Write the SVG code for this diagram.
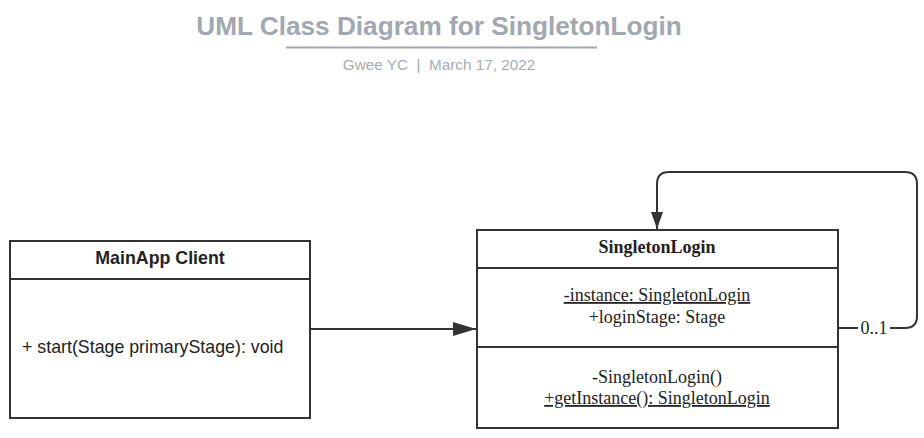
<svg xmlns="http://www.w3.org/2000/svg" width="924" height="438" viewBox="0 0 924 438">
<style>
.box{fill:#fff;stroke:#333;stroke-width:2}
.div{stroke:#333;stroke-width:2}
.sans{font-family:"Liberation Sans",Arial,sans-serif;fill:#222;font-size:17.8px}
.serif{font-family:"Liberation Serif","Times New Roman",serif;fill:#222;font-size:18px}
.title{font-family:"Liberation Sans",Arial,sans-serif;font-weight:bold;font-size:26.2px;fill:#a3a7b0}
.sub{font-family:"Liberation Sans",Arial,sans-serif;font-size:15.3px;fill:#a8abb3}
.conn{fill:none;stroke:#333;stroke-width:2}
</style>
<defs>
<marker id="tri" markerWidth="24" markerHeight="14" refX="23" refY="7" orient="auto" markerUnits="userSpaceOnUse">
<path d="M0,0 L23,7 L0,14 Z" fill="#333"/>
</marker>
<marker id="tri2" markerWidth="18" markerHeight="14" refX="17" refY="7" orient="auto" markerUnits="userSpaceOnUse">
<path d="M0,1 L17,7 L0,13 Z" fill="#333"/>
</marker>
</defs>
<rect width="924" height="438" fill="#fff"/>
<g id="title">
<text class="title" x="439" y="35" text-anchor="middle">UML Class Diagram for SingletonLogin</text>
<line x1="286" y1="47.5" x2="597" y2="47.5" stroke="#a3a7b0" stroke-width="2"/>
<text class="sub" x="439" y="70" text-anchor="middle" xml:space="preserve">Gwee YC  |  March 17, 2022</text>
</g>
<g id="connectors">
<line class="conn" x1="311" y1="329" x2="476" y2="329" stroke-width="3.5" marker-end="url(#tri)"/>
<path class="conn" d="M838,328 H858 M890,328 H905 Q917,328 917,316 V184 Q917,172 905,172 H669 Q657,172 657,184 V229" marker-end="url(#tri2)"/>
<text class="serif" x="874" y="334" text-anchor="middle">0..1</text>
</g>
<g id="mainapp">
<rect class="box" x="10" y="241" width="300" height="177"/>
<line class="div" x1="10" y1="279" x2="310" y2="279"/>
<text class="sans" x="160" y="264" text-anchor="middle" font-weight="bold">MainApp Client</text>
<text class="sans" x="22" y="353">+ start(Stage primaryStage): void</text>
</g>
<g id="singletonlogin">
<rect class="box" x="477" y="230" width="361" height="198"/>
<line class="div" x1="477" y1="268" x2="838" y2="268"/>
<line class="div" x1="477" y1="347" x2="838" y2="347"/>
<text class="serif" x="657" y="253" text-anchor="middle" font-weight="bold">SingletonLogin</text>
<text class="serif" x="657" y="301" text-anchor="middle" text-decoration="underline">-instance: SingletonLogin</text>
<text class="serif" x="657" y="323" text-anchor="middle">+loginStage: Stage</text>
<text class="serif" x="657" y="383" text-anchor="middle">-SingletonLogin()</text>
<text class="serif" x="657" y="404" text-anchor="middle" text-decoration="underline">+getInstance(): SingletonLogin</text>
</g>
</svg>
